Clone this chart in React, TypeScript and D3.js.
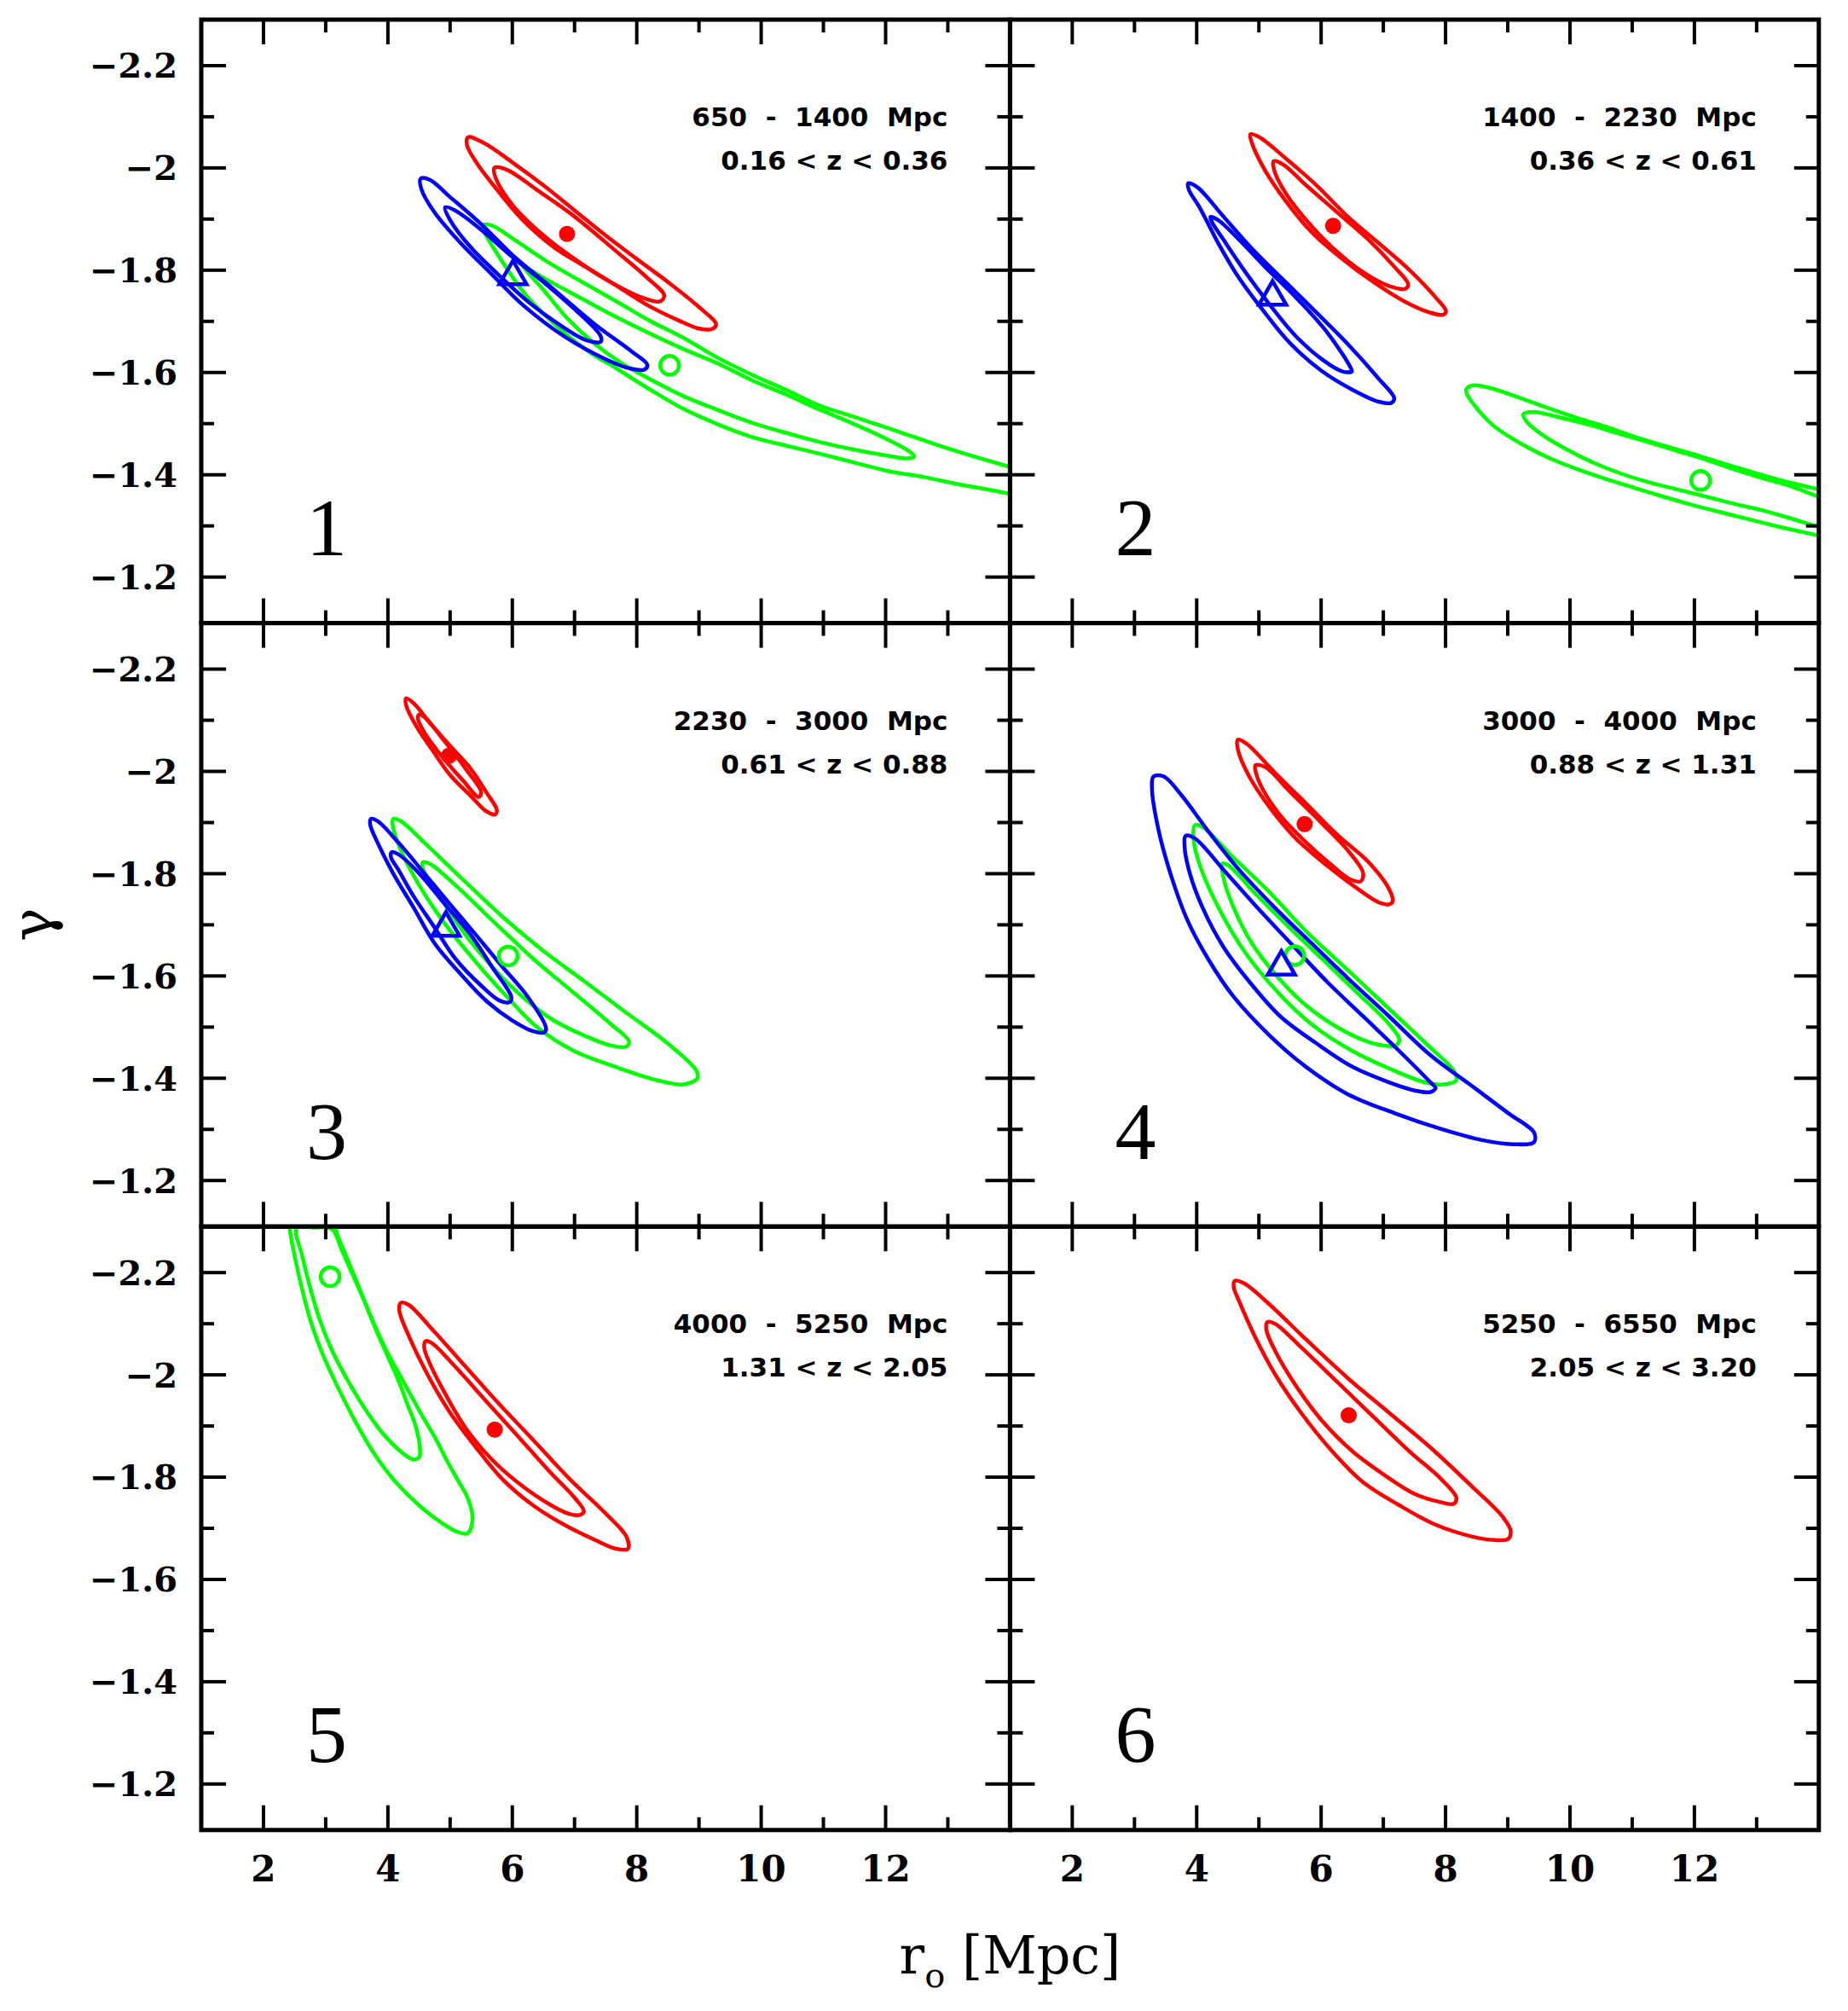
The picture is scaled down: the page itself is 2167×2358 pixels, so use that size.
import React from 'react';
import * as d3 from 'd3';

type Pt = [number, number];

// axis ranges and ticks
const xDomain: Pt = [1, 14];
const yDomain: Pt = [-2.29, -1.11];
const xMajor = [2, 4, 6, 8, 10, 12];
const xMinor = [3, 5, 7, 9, 11, 13];
const xTickLabels = ['2', '4', '6', '8', '10', '12'];
const yMajor = [-2.2, -2.0, -1.8, -1.6, -1.4, -1.2];
const yMinor = [-2.1, -1.9, -1.7, -1.5, -1.3];
const yTickLabels = ['\u22122.2', '\u22122', '\u22121.8', '\u22121.6', '\u22121.4', '\u22121.2'];

const distLabels = ['650  -  1400  Mpc', '1400  -  2230  Mpc', '2230  -  3000  Mpc', '3000  -  4000  Mpc', '4000  -  5250  Mpc', '5250  -  6550  Mpc'];
const zLabels = ['0.16 < z < 0.36', '0.36 < z < 0.61', '0.61 < z < 0.88', '0.88 < z < 1.31', '1.31 < z < 2.05', '2.05 < z < 3.20'];
const panelNums = ['1', '2', '3', '4', '5', '6'];

// ---- panel 1 ----
const p1RedOuter: Pt[] = [[5.29,-2.06],[5.54,-2.049],[6.0,-2.011],[6.5,-1.966],[7.0,-1.917],[7.5,-1.868],[8.0,-1.822],[8.5,-1.777],[9.0,-1.728],[9.275,-1.694],[9.21,-1.685],[9.0,-1.686],[8.67,-1.702],[8.17,-1.732],[7.67,-1.77],[7.17,-1.807],[6.67,-1.845],[6.17,-1.898],[5.75,-1.958],[5.42,-2.011],[5.27,-2.045]];
const p1RedInner: Pt[] = [[5.71,-2.0],[5.92,-1.996],[6.42,-1.955],[7.0,-1.905],[7.67,-1.837],[8.17,-1.785],[8.44,-1.751],[8.375,-1.739],[8.08,-1.747],[7.58,-1.777],[7.0,-1.822],[6.5,-1.868],[6.0,-1.928],[5.73,-1.981]];
const p1BlueOuter: Pt[] = [[4.525,-1.979],[4.67,-1.977],[5.0,-1.943],[5.5,-1.89],[6.0,-1.83],[6.67,-1.762],[7.33,-1.694],[7.92,-1.641],[8.17,-1.615],[8.125,-1.606],[7.92,-1.607],[7.5,-1.626],[6.83,-1.671],[6.17,-1.732],[5.67,-1.792],[5.17,-1.853],[4.75,-1.913],[4.54,-1.958]];
const p1BlueInner: Pt[] = [[4.92,-1.923],[5.08,-1.917],[5.5,-1.879],[6.0,-1.826],[6.5,-1.777],[7.0,-1.724],[7.42,-1.671],[7.42,-1.66],[7.17,-1.664],[6.75,-1.694],[6.25,-1.739],[5.83,-1.785],[5.33,-1.845],[5.0,-1.898]];
const p1GreenOuter: Pt[] = [[5.525,-1.888],[5.664,-1.888],[5.995,-1.863],[6.545,-1.818],[7.096,-1.779],[7.647,-1.741],[8.197,-1.702],[8.748,-1.668],[9.299,-1.629],[9.849,-1.596],[10.4,-1.566],[10.95,-1.535],[11.5,-1.513],[12.05,-1.491],[12.6,-1.468],[13.15,-1.446],[13.98,-1.416],[15.0,-1.38],[15.0,-1.33],[13.98,-1.363],[13.15,-1.382],[12.6,-1.396],[12.05,-1.407],[11.5,-1.424],[10.95,-1.441],[10.4,-1.457],[9.849,-1.474],[9.299,-1.499],[8.748,-1.529],[8.197,-1.568],[7.647,-1.61],[7.261,-1.638],[6.711,-1.691],[6.215,-1.752],[5.774,-1.829],[5.554,-1.874]];
const p1GreenInner: Pt[] = [[6.182,-1.807],[6.545,-1.782],[7.096,-1.746],[7.647,-1.71],[8.197,-1.677],[8.748,-1.646],[9.299,-1.618],[9.849,-1.585],[10.4,-1.557],[10.95,-1.527],[11.5,-1.499],[12.05,-1.468],[12.38,-1.446],[12.46,-1.436],[12.33,-1.432],[12.05,-1.437],[11.5,-1.449],[10.95,-1.464],[10.4,-1.482],[9.849,-1.502],[9.299,-1.527],[8.748,-1.554],[8.197,-1.588],[7.757,-1.618],[7.316,-1.657],[6.876,-1.707],[6.49,-1.763],[6.27,-1.793]];
const p1RedDot: Pt = [6.88, -1.871];
const p1BlueTri: Pt = [6.01, -1.788];
const p1GreenCirc: Pt = [8.528, -1.614];

// ---- panel 2 ----
const p2RedOuter: Pt[] = [[4.862,-2.066],[5.012,-2.06],[5.428,-2.019],[5.927,-1.966],[6.426,-1.905],[6.925,-1.853],[7.424,-1.8],[7.84,-1.747],[8.007,-1.72],[7.965,-1.713],[7.757,-1.717],[7.341,-1.739],[6.842,-1.777],[6.343,-1.822],[5.844,-1.875],[5.428,-1.936],[5.095,-1.996],[4.887,-2.049]];
const p2RedInner: Pt[] = [[5.236,-2.013],[5.386,-2.007],[5.76,-1.966],[6.26,-1.913],[6.759,-1.86],[7.175,-1.807],[7.399,-1.773],[7.358,-1.764],[7.092,-1.769],[6.676,-1.796],[6.176,-1.845],[5.76,-1.898],[5.428,-1.951],[5.245,-1.996]];
const p2BlueOuter: Pt[] = [[3.864,-1.97],[4.013,-1.962],[4.429,-1.905],[4.928,-1.837],[5.428,-1.777],[5.927,-1.717],[6.426,-1.656],[6.925,-1.588],[7.175,-1.55],[7.133,-1.541],[6.925,-1.543],[6.509,-1.566],[6.01,-1.603],[5.511,-1.656],[5.095,-1.717],[4.679,-1.785],[4.346,-1.853],[4.055,-1.921],[3.872,-1.958]];
const p2BlueInner: Pt[] = [[4.221,-1.904],[4.346,-1.898],[4.679,-1.86],[5.095,-1.807],[5.594,-1.747],[6.093,-1.679],[6.468,-1.611],[6.493,-1.602],[6.343,-1.602],[6.01,-1.626],[5.594,-1.671],[5.178,-1.732],[4.762,-1.8],[4.429,-1.86],[4.246,-1.894]];
const p2GreenOuter: Pt[] = [[8.337,-1.568],[8.451,-1.575],[8.771,-1.568],[9.228,-1.549],[9.684,-1.529],[10.14,-1.51],[10.6,-1.493],[11.05,-1.474],[11.51,-1.457],[11.97,-1.441],[12.42,-1.424],[12.88,-1.407],[13.34,-1.391],[14.01,-1.371],[15.0,-1.34],[15.0,-1.255],[14.01,-1.281],[13.34,-1.299],[12.88,-1.313],[12.42,-1.327],[11.97,-1.341],[11.51,-1.357],[11.05,-1.374],[10.6,-1.391],[10.14,-1.41],[9.684,-1.432],[9.228,-1.46],[8.771,-1.496],[8.451,-1.538],[8.337,-1.56]];
const p2GreenInner: Pt[] = [[9.25,-1.518],[9.41,-1.523],[9.912,-1.51],[10.37,-1.496],[10.83,-1.479],[11.28,-1.463],[11.74,-1.446],[12.2,-1.429],[12.65,-1.41],[13.11,-1.393],[13.57,-1.377],[14.01,-1.357],[15.0,-1.325],[15.0,-1.27],[14.01,-1.298],[13.57,-1.314],[13.11,-1.33],[12.65,-1.343],[12.2,-1.357],[11.74,-1.371],[11.28,-1.385],[10.83,-1.402],[10.37,-1.424],[9.912,-1.452],[9.547,-1.479],[9.319,-1.502]];
const p2RedDot: Pt = [6.193, -1.887];
const p2BlueTri: Pt = [5.22, -1.748];
const p2GreenCirc: Pt = [12.1, -1.389];

// ---- panel 3 ----
const p3RedOuter: Pt[] = [[4.292,-2.143],[4.417,-2.133],[4.667,-2.096],[5.0,-2.05],[5.333,-2.005],[5.583,-1.959],[5.75,-1.925],[5.725,-1.916],[5.583,-1.922],[5.333,-1.952],[5.0,-1.993],[4.708,-2.043],[4.458,-2.088],[4.292,-2.13]];
const p3RedInner: Pt[] = [[4.5,-2.111],[4.583,-2.107],[4.917,-2.058],[5.25,-2.005],[5.5,-1.959],[5.458,-1.95],[5.208,-1.982],[4.875,-2.028],[4.583,-2.077],[4.483,-2.103]];
const p3BlueOuter: Pt[] = [[3.725,-1.907],[3.833,-1.903],[4.167,-1.861],[4.583,-1.801],[5.0,-1.74],[5.417,-1.68],[5.833,-1.619],[6.25,-1.559],[6.542,-1.498],[6.517,-1.49],[6.333,-1.492],[6.0,-1.513],[5.583,-1.551],[5.167,-1.604],[4.75,-1.664],[4.417,-1.733],[4.083,-1.801],[3.833,-1.861],[3.717,-1.895]];
const p3BlueInner: Pt[] = [[4.058,-1.842],[4.167,-1.838],[4.5,-1.801],[4.917,-1.74],[5.333,-1.68],[5.667,-1.619],[5.983,-1.559],[5.958,-1.549],[5.792,-1.552],[5.5,-1.581],[5.083,-1.634],[4.75,-1.695],[4.417,-1.755],[4.167,-1.808],[4.05,-1.832]];
const p3GreenOuter: Pt[] = [[4.083,-1.907],[4.208,-1.903],[4.583,-1.861],[5.167,-1.793],[5.833,-1.717],[6.5,-1.649],[7.167,-1.589],[7.833,-1.528],[8.5,-1.468],[8.958,-1.415],[8.975,-1.4],[8.75,-1.388],[8.333,-1.396],[7.667,-1.422],[7.0,-1.453],[6.417,-1.498],[5.917,-1.559],[5.417,-1.627],[4.917,-1.702],[4.5,-1.778],[4.208,-1.846],[4.083,-1.891]];
const p3GreenInner: Pt[] = [[4.558,-1.822],[4.667,-1.82],[5.083,-1.778],[5.667,-1.71],[6.333,-1.634],[7.0,-1.566],[7.583,-1.506],[7.875,-1.472],[7.833,-1.462],[7.583,-1.464],[7.167,-1.483],[6.667,-1.513],[6.167,-1.559],[5.667,-1.619],[5.25,-1.68],[4.917,-1.74],[4.667,-1.785],[4.558,-1.812]];
const p3RedDot: Pt = [4.983, -2.031];
const p3BlueTri: Pt = [4.933, -1.694];
const p3GreenCirc: Pt = [5.933, -1.639];

// ---- panel 4 ----
const p4RedOuter: Pt[] = [[4.662,-2.062],[4.804,-2.054],[5.261,-1.997],[5.76,-1.937],[6.26,-1.876],[6.759,-1.823],[7.092,-1.77],[7.15,-1.746],[7.092,-1.74],[6.925,-1.744],[6.592,-1.77],[6.093,-1.816],[5.594,-1.869],[5.178,-1.929],[4.845,-1.99],[4.662,-2.043]];
const p4RedInner: Pt[] = [[4.945,-2.012],[5.095,-2.009],[5.511,-1.959],[6.01,-1.899],[6.426,-1.846],[6.676,-1.801],[6.634,-1.785],[6.468,-1.789],[6.176,-1.816],[5.76,-1.861],[5.344,-1.914],[5.053,-1.967],[4.945,-2.001]];
const p4BlueOuter: Pt[] = [[3.306,-1.99],[3.473,-1.99],[3.764,-1.952],[4.18,-1.884],[4.679,-1.808],[5.261,-1.733],[5.844,-1.664],[6.426,-1.596],[7.092,-1.521],[7.757,-1.445],[8.423,-1.385],[9.005,-1.332],[9.421,-1.294],[9.421,-1.275],[9.088,-1.271],[8.589,-1.279],[7.923,-1.301],[7.175,-1.332],[6.426,-1.369],[5.76,-1.422],[5.178,-1.483],[4.596,-1.559],[4.18,-1.634],[3.847,-1.71],[3.597,-1.793],[3.389,-1.884],[3.281,-1.967]];
const p4BlueInner: Pt[] = [[3.822,-1.874],[3.972,-1.869],[4.429,-1.808],[4.928,-1.74],[5.511,-1.664],[6.093,-1.589],[6.676,-1.521],[7.258,-1.453],[7.757,-1.392],[7.84,-1.381],[7.757,-1.373],[7.507,-1.376],[7.092,-1.392],[6.509,-1.422],[5.927,-1.468],[5.344,-1.521],[4.845,-1.589],[4.429,-1.657],[4.097,-1.733],[3.889,-1.801],[3.805,-1.854]];
const p4GreenOuter: Pt[] = [[3.972,-1.895],[4.097,-1.891],[4.596,-1.831],[5.178,-1.763],[5.76,-1.687],[6.426,-1.612],[7.092,-1.536],[7.757,-1.46],[8.131,-1.415],[8.173,-1.396],[7.965,-1.388],[7.674,-1.392],[7.175,-1.415],[6.509,-1.453],[5.844,-1.506],[5.261,-1.574],[4.762,-1.649],[4.388,-1.725],[4.097,-1.801],[3.955,-1.861]];
const p4GreenInner: Pt[] = [[4.413,-1.82],[4.513,-1.816],[4.928,-1.763],[5.428,-1.702],[6.01,-1.634],[6.592,-1.566],[7.092,-1.506],[7.258,-1.475],[7.191,-1.464],[7.008,-1.464],[6.676,-1.475],[6.176,-1.506],[5.677,-1.551],[5.261,-1.604],[4.887,-1.664],[4.596,-1.733],[4.429,-1.793]];
const p4RedDot: Pt = [5.735, -1.897];
const p4BlueTri: Pt = [5.361, -1.618];
const p4GreenCirc: Pt = [5.577, -1.64];

// ---- panel 5 ----
const p5GreenOuter: Pt[] = [[2.4,-2.33],[2.419,-2.288],[2.51,-2.227],[2.624,-2.166],[2.761,-2.104],[2.943,-2.043],[3.171,-1.982],[3.445,-1.916],[3.764,-1.849],[4.129,-1.79],[4.5,-1.745],[4.85,-1.712],[5.1,-1.694],[5.28,-1.69],[5.36,-1.718],[5.28,-1.76],[5.12,-1.795],[4.95,-1.832],[4.76,-1.877],[4.57,-1.916],[4.37,-1.96],[4.17,-2.004],[3.97,-2.049],[3.78,-2.099],[3.59,-2.154],[3.47,-2.191],[3.31,-2.238],[3.17,-2.282],[3.15,-2.33]];
const p5GreenInner: Pt[] = [[2.533,-2.288],[2.624,-2.232],[2.761,-2.166],[2.898,-2.11],[3.08,-2.054],[3.308,-1.999],[3.582,-1.943],[3.901,-1.888],[4.22,-1.849],[4.402,-1.835],[4.502,-1.839],[4.516,-1.854],[4.448,-1.899],[4.311,-1.943],[4.174,-1.988],[3.992,-2.038],[3.809,-2.088],[3.627,-2.143],[3.445,-2.193],[3.263,-2.243],[3.126,-2.282],[3.035,-2.288],[2.8,-2.288]];
const p5RedOuter: Pt[] = [[4.208,-2.141],[4.333,-2.137],[4.75,-2.084],[5.25,-2.016],[5.75,-1.948],[6.333,-1.873],[6.917,-1.797],[7.5,-1.729],[7.833,-1.684],[7.858,-1.66],[7.667,-1.66],[7.333,-1.677],[6.833,-1.707],[6.333,-1.745],[5.833,-1.797],[5.417,-1.858],[5.0,-1.926],[4.667,-1.994],[4.333,-2.077],[4.183,-2.126]];
const p5RedInner: Pt[] = [[4.608,-2.066],[4.708,-2.062],[5.083,-2.016],[5.583,-1.948],[6.083,-1.881],[6.583,-1.813],[7.0,-1.76],[7.15,-1.733],[7.083,-1.726],[6.917,-1.728],[6.583,-1.748],[6.083,-1.79],[5.667,-1.835],[5.25,-1.896],[4.917,-1.964],[4.667,-2.024],[4.583,-2.054]];
const p5RedDot: Pt = [5.717, -1.893];
const p5GreenCirc: Pt = [3.071, -2.192];

// ---- panel 6 ----
const p6RedOuter: Pt[] = [[4.612,-2.184],[4.762,-2.179],[5.178,-2.137],[5.76,-2.069],[6.426,-1.994],[7.092,-1.926],[7.757,-1.858],[8.423,-1.782],[8.922,-1.722],[9.047,-1.695],[9.005,-1.679],[8.797,-1.677],[8.423,-1.684],[7.84,-1.707],[7.258,-1.745],[6.676,-1.79],[6.176,-1.851],[5.677,-1.926],[5.261,-2.001],[4.928,-2.077],[4.679,-2.145],[4.596,-2.171]];
const p6RedInner: Pt[] = [[5.136,-2.103],[5.261,-2.1],[5.677,-2.054],[6.26,-1.986],[6.842,-1.918],[7.424,-1.85],[7.923,-1.797],[8.173,-1.76],[8.131,-1.748],[7.923,-1.751],[7.507,-1.767],[7.008,-1.805],[6.509,-1.85],[6.01,-1.911],[5.594,-1.979],[5.261,-2.047],[5.12,-2.088]];
const p6RedDot: Pt = [6.443, -1.921];

const RED = '#ff0000';
const BLUE = '#0000ff';
const GREEN = '#00ff00';

interface Panel {
  green: Pt[][];
  blue: Pt[][];
  red: Pt[][];
  dots: Pt[];
  tris: Pt[];
  circs: Pt[];
}

const panels: Panel[] = [
  { green: [p1GreenOuter, p1GreenInner], blue: [p1BlueOuter, p1BlueInner], red: [p1RedOuter, p1RedInner], dots: [p1RedDot], tris: [p1BlueTri], circs: [p1GreenCirc] },
  { green: [p2GreenOuter, p2GreenInner], blue: [p2BlueOuter, p2BlueInner], red: [p2RedOuter, p2RedInner], dots: [p2RedDot], tris: [p2BlueTri], circs: [p2GreenCirc] },
  { green: [p3GreenOuter, p3GreenInner], blue: [p3BlueOuter, p3BlueInner], red: [p3RedOuter, p3RedInner], dots: [p3RedDot], tris: [p3BlueTri], circs: [p3GreenCirc] },
  { green: [p4GreenOuter, p4GreenInner], blue: [p4BlueOuter, p4BlueInner], red: [p4RedOuter, p4RedInner], dots: [p4RedDot], tris: [p4BlueTri], circs: [p4GreenCirc] },
  { green: [p5GreenOuter, p5GreenInner], blue: [], red: [p5RedOuter, p5RedInner], dots: [p5RedDot], tris: [], circs: [p5GreenCirc] },
  { green: [], blue: [], red: [p6RedOuter, p6RedInner], dots: [p6RedDot], tris: [], circs: [] },
];

const W = 2167;
const H = 2358;
const frameL = 236;
const frameT = 23;
const pw = 948.4;
const ph = 707.6;
const tickFont = '"DejaVu Serif", serif';
const triPath = d3.symbol(d3.symbolTriangle, 440)() || '';

const App: React.FC = () => {
  const frameB = frameT + 3 * ph;
  return (
    <svg width={W} height={H} style={{ position: 'absolute', left: 0, top: 0, background: '#fff' }}>
      <rect x={0} y={0} width={W} height={H} fill="#fff" />
      <defs>
        {panels.map((_, i) => {
          const x0 = frameL + (i % 2) * pw;
          const y0 = frameT + Math.floor(i / 2) * ph;
          return (
            <clipPath id={`clip${i}`} key={i}>
              <rect x={x0} y={y0} width={pw} height={ph} />
            </clipPath>
          );
        })}
      </defs>
      {panels.map((p, i) => {
        const col = i % 2;
        const row = Math.floor(i / 2);
        const x0 = frameL + col * pw;
        const y0 = frameT + row * ph;
        const x = d3.scaleLinear().domain(xDomain).range([x0, x0 + pw]);
        const y = d3.scaleLinear().domain(yDomain).range([y0, y0 + ph]);
        const line = d3.line<Pt>().x(d => x(d[0])).y(d => y(d[1])).curve(d3.curveCatmullRomClosed.alpha(0.5));
        const contour = (pts: Pt[], color: string, k: string) => (
          <path key={k} d={line(pts) || ''} fill="none" stroke={color} strokeWidth={4.5} strokeLinejoin="round" />
        );
        return (
          <g key={i}>
            <g clipPath={`url(#clip${i})`}>
              {p.green.map((c, j) => contour(c, GREEN, `g${j}`))}
              {p.blue.map((c, j) => contour(c, BLUE, `b${j}`))}
              {p.red.map((c, j) => contour(c, RED, `r${j}`))}
              {p.circs.map((c, j) => (
                <circle key={`c${j}`} cx={x(c[0])} cy={y(c[1])} r={11} fill="none" stroke={GREEN} strokeWidth={4.5} />
              ))}
              {p.tris.map((c, j) => (
                <path key={`t${j}`} d={triPath} transform={`translate(${x(c[0])},${y(c[1])})`} fill="none" stroke={BLUE} strokeWidth={4.5} strokeLinejoin="miter" />
              ))}
              {p.dots.map((c, j) => (
                <circle key={`d${j}`} cx={x(c[0])} cy={y(c[1])} r={9.5} fill={RED} />
              ))}
            </g>
            {/* ticks on all four sides, pointing in */}
            {[...xMajor.map(v => [v, 29]), ...xMinor.map(v => [v, 15])].map(([v, len], j) => (
              <g key={`xt${j}`} stroke="#000" strokeWidth={4}>
                <line x1={x(v)} x2={x(v)} y1={y0} y2={y0 + len} />
                <line x1={x(v)} x2={x(v)} y1={y0 + ph} y2={y0 + ph - len} />
              </g>
            ))}
            {[...yMajor.map(v => [v, 29]), ...yMinor.map(v => [v, 15])].map(([v, len], j) => (
              <g key={`yt${j}`} stroke="#000" strokeWidth={4}>
                <line x1={x0} x2={x0 + len} y1={y(v)} y2={y(v)} />
                <line x1={x0 + pw} x2={x0 + pw - len} y1={y(v)} y2={y(v)} />
              </g>
            ))}
            <rect x={x0} y={y0} width={pw} height={ph} fill="none" stroke="#000" strokeWidth={5} />
            {col === 0 && yMajor.map((v, j) => (
              <text key={`yl${j}`} x={x0 - 28} y={y(v)} dy="0.36em" textAnchor="end" fontFamily={tickFont} fontWeight="bold" fontSize={40}>
                {yTickLabels[j]}
              </text>
            ))}
            {row === 2 && xMajor.map((v, j) => (
              <text key={`xl${j}`} x={x(v)} y={frameB + 60} textAnchor="middle" fontFamily={tickFont} fontWeight="bold" fontSize={42}>
                {xTickLabels[j]}
              </text>
            ))}
            <g fontFamily='"DejaVu Sans", sans-serif' fontWeight="bold" fontSize={31} textAnchor="end">
              <text x={x0 + pw - 73} y={y0 + 125} xmlSpace="preserve" style={{ whiteSpace: 'pre' }}>{distLabels[i]}</text>
              <text x={x0 + pw - 73} y={y0 + 176}>{zLabels[i]}</text>
            </g>
            <text x={x0 + 147} y={y0 + 628} textAnchor="middle" fontFamily='"Liberation Serif", serif' fontSize={96}>
              {panelNums[i]}
            </text>
          </g>
        );
      })}
      <text x={frameL + pw} y={frameB + 168} textAnchor="middle" fontFamily={tickFont} fontSize={62}>
        r<tspan fontSize={40} dy={16}>o</tspan><tspan dy={-16}> [Mpc]</tspan>
      </text>
      <text transform={`translate(60,${frameT + 1.5 * ph}) rotate(-90)`} textAnchor="middle" fontFamily={tickFont} fontSize={66}>
        γ
      </text>
    </svg>
  );
};

export default App;
